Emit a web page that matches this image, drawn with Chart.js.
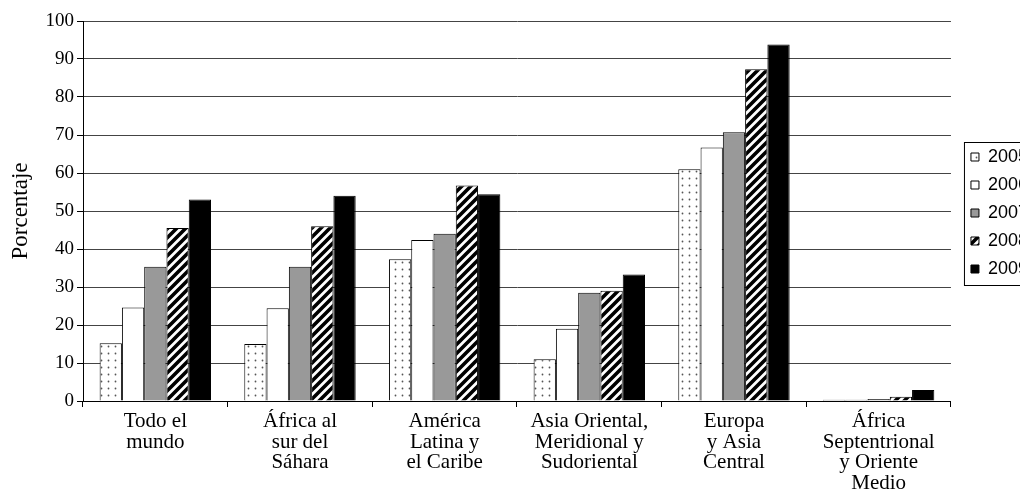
<!DOCTYPE html>
<html>
<head>
<meta charset="utf-8">
<script src="https://cdn.jsdelivr.net/npm/chart.js@4/dist/chart.umd.min.js"></script>
<style>
  html, body { margin: 0; padding: 0; background: #fff; overflow: hidden; }
  #wrap { width: 1080px; height: 491px; }
</style>
</head>
<body>
<div id="wrap"><canvas id="myChart"></canvas></div>
<script>
var regions = [
    ['Todo el', 'mundo'],
    ['África al', 'sur del', 'Sáhara'],
    ['América', 'Latina y', 'el Caribe'],
    ['Asia Oriental,', 'Meridional y', 'Sudoriental'],
    ['Europa', 'y Asia', 'Central'],
    ['África', 'Septentrional', 'y Oriente', 'Medio']
];
var years = ['2005', '2006', '2007', '2008', '2009'];
var v2005 = [15.2, 15.0, 37.3, 11.0, 61.0, 0.3];
var v2006 = [24.6, 24.4, 42.4, 19.0, 66.7, 0.3];
var v2007 = [35.3, 35.3, 44.0, 28.5, 70.7, 0.5];
var v2008 = [45.5, 46.0, 56.7, 29.0, 87.3, 1.1];
var v2009 = [53.0, 54.0, 54.4, 33.3, 93.8, 2.9];
var yTicks = [0, 10, 20, 30, 40, 50, 60, 70, 80, 90, 100];

var serif = '"Liberation Serif", "Times New Roman", serif';
var sans = '"Liberation Sans", Arial, sans-serif';

function dotPattern() {
    var c = document.createElement('canvas');
    c.width = 7; c.height = 7;
    var g = c.getContext('2d');
    g.fillStyle = '#fff';
    g.fillRect(0, 0, 7, 7);
    g.fillStyle = '#555';
    g.beginPath();
    g.arc(3.5, 3.5, 0.9, 0, Math.PI * 2);
    g.fill();
    return g.createPattern(c, 'repeat');
}

function stripePattern() {
    var s = 9;
    var c = document.createElement('canvas');
    c.width = s; c.height = s;
    var g = c.getContext('2d');
    g.fillStyle = '#fff';
    g.fillRect(0, 0, s, s);
    g.strokeStyle = '#000';
    g.lineWidth = 3.6;
    g.beginPath();
    g.moveTo(-s / 2, s / 2); g.lineTo(s / 2, -s / 2);
    g.moveTo(0, s); g.lineTo(s, 0);
    g.moveTo(s / 2, s * 1.5); g.lineTo(s * 1.5, s / 2);
    g.stroke();
    return g.createPattern(c, 'repeat');
}

var fills = [dotPattern(), '#ffffff', '#999999', stripePattern(), '#000000'];
var series = [v2005, v2006, v2007, v2008, v2009];

// nudge the legend a little off the plot, like the original
var legendShift = {
    id: 'legendShift',
    afterLayout: function (chart) {
        var lg = chart.legend;
        lg.left += 10; lg.right += 10;
        lg.top += 2; lg.bottom += 2;
    }
};

var legendBorder = {
    id: 'legendBorder',
    afterDraw: function (chart) {
        var boxes = chart.legend.legendHitBoxes;
        if (!boxes || !boxes.length) return;
        var ctx = chart.ctx;
        var last = boxes[boxes.length - 1];
        var top = boxes[0].top - 6;
        var bottom = last.top + last.height + 7;
        var left = chart.legend.left + 3;
        ctx.save();
        ctx.strokeStyle = '#000';
        ctx.lineWidth = 1;
        ctx.strokeRect(left + 0.5, top + 0.5, chart.width, bottom - top);
        ctx.restore();
    }
};

var ctx = document.getElementById('myChart').getContext('2d');
var myChart = new Chart(ctx, {
    type: 'bar',
    data: {
        labels: regions,
        datasets: years.map(function (y, i) {
            return {
                label: y,
                data: series[i],
                backgroundColor: fills[i],
                borderColor: '#000',
                borderWidth: 1,
                categoryPercentage: 0.77,
                barPercentage: 1.0
            };
        })
    },
    options: {
        responsive: true,
        maintainAspectRatio: false,
        animation: false,
        devicePixelRatio: 1,
        layout: { padding: { top: 21, right: 52, left: 0, bottom: 0 } },
        plugins: {
            tooltip: { enabled: false },
            legend: {
                position: 'right',
                fullSize: false,
                labels: {
                    boxWidth: 8,
                    boxHeight: 8,
                    padding: 10,
                    color: '#000',
                    font: { family: sans, size: 18 }
                }
            }
        },
        scales: {
            x: {
                grid: { display: true, drawOnChartArea: false, drawTicks: true, tickLength: 6, color: '#000', offset: true },
                border: { display: true, color: '#000' },
                ticks: {
                    color: '#000',
                    padding: 4,
                    maxRotation: 0,
                    autoSkip: false,
                    font: { family: serif, size: 21, lineHeight: 0.985 }
                },
                afterFit: function (scale) { scale.height = 90; }
            },
            y: {
                min: 0,
                max: 100,
                afterBuildTicks: function (scale) {
                    scale.ticks = yTicks.map(function (v) { return { value: v }; });
                },
                grid: { color: '#444', tickColor: '#000', tickLength: 6 },
                border: { display: true, color: '#000' },
                ticks: {
                    color: '#000',
                    padding: 3,
                    font: { family: serif, size: 19 }
                },
                title: {
                    display: true,
                    text: 'Porcentaje',
                    color: '#000',
                    padding: { top: 7, bottom: 0 },
                    font: { family: serif, size: 23 }
                },
                afterFit: function (scale) { scale.width = 83; }
            }
        }
    },
    plugins: [legendShift, legendBorder]
});
</script>
</body>
</html>
